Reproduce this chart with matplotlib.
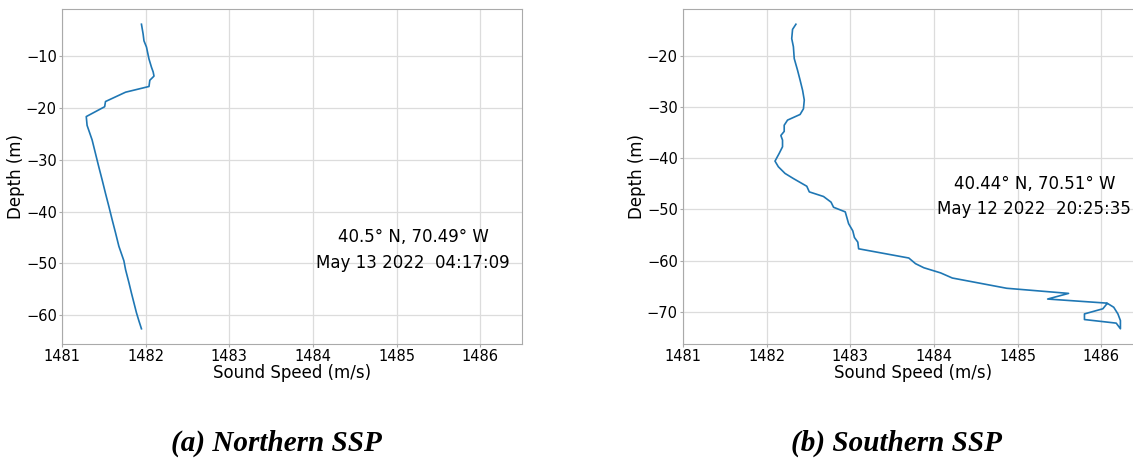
import numpy as np
import matplotlib.pyplot as plt

# Northern SSP (speed m/s, depth m)
north_speed = [1481.95, 1481.97, 1481.98, 1482.01, 1482.04, 1482.07, 1482.09, 1482.10,
               1482.05, 1482.04, 1481.76, 1481.52, 1481.51, 1481.29, 1481.30, 1481.33,
               1481.36, 1481.40, 1481.44, 1481.48, 1481.52, 1481.56, 1481.60, 1481.64,
               1481.68, 1481.74, 1481.76, 1481.80, 1481.83, 1481.86, 1481.89, 1481.92,
               1481.95]
north_depth = [-3.9, -5.8, -7.1, -8.3, -10.6, -12.2, -13.1, -13.9,
               -14.7, -15.9, -17.0, -18.8, -19.8, -21.7, -23.4, -24.8,
               -26.2, -28.8, -31.4, -33.9, -36.5, -39.0, -41.6, -44.1,
               -46.7, -49.5, -51.2, -53.7, -55.7, -57.6, -59.5, -61.1,
               -62.6]

# Southern SSP
south_speed = [1482.35, 1482.31, 1482.30, 1482.32, 1482.33, 1482.37, 1482.40, 1482.43,
               1482.45, 1482.44, 1482.40, 1482.25, 1482.21, 1482.21, 1482.17, 1482.19,
               1482.19, 1482.15, 1482.10, 1482.14, 1482.22, 1482.32, 1482.48, 1482.51,
               1482.68, 1482.77, 1482.80, 1482.94, 1482.98, 1483.03, 1483.05, 1483.09,
               1483.10, 1483.70, 1483.78, 1483.88, 1484.08, 1484.22, 1484.87, 1485.61,
               1485.36, 1486.07, 1486.15, 1486.20, 1486.23, 1486.23, 1486.18, 1485.80,
               1485.80, 1486.02, 1486.07]
south_depth = [-13.9, -14.9, -16.7, -18.3, -20.6, -22.9, -24.8, -26.8,
               -28.7, -30.4, -31.5, -32.6, -33.6, -34.8, -35.6, -36.5,
               -37.8, -39.1, -40.6, -41.7, -43.0, -44.0, -45.5, -46.6,
               -47.5, -48.6, -49.6, -50.5, -52.8, -54.2, -55.5, -56.4,
               -57.7, -59.5, -60.6, -61.4, -62.4, -63.4, -65.4, -66.4,
               -67.5, -68.3, -69.1, -70.4, -71.7, -73.3, -72.2, -71.5,
               -70.4, -69.4, -68.4]

xticks = [1481, 1482, 1483, 1484, 1485, 1486]
labels = [["40.5° N, 70.49° W", "May 13 2022  04:17:09"],
          ["40.44° N, 70.51° W", "May 12 2022  20:25:35"]]
captions = ["(a) Northern SSP", "(b) Southern SSP"]

fig = plt.figure(figsize=(11.33, 4.61), dpi=100)
ax1 = fig.add_axes([62/1133, 117/461, 460/1133, 335/461])
ax2 = fig.add_axes([683/1133, 117/461, 460/1133, 335/461])

for ax, sp, dp, lab in [(ax1, north_speed, north_depth, labels[0]),
                        (ax2, south_speed, south_depth, labels[1])]:
    ax.plot(sp, dp, color='#1f77b4', lw=1.2)
    ax.set_xlim(1481, 1486.5)
    ax.set_xticks(xticks)
    ax.grid(True, color='#dcdcdc', lw=0.9)
    ax.set_axisbelow(True)
    for s in ax.spines.values():
        s.set_color('#aaaaaa')
    ax.tick_params(colors='#aaaaaa', labelcolor='black', labelsize=10.5,
                   length=2.5, pad=1.2)
    ax.set_xlabel("Sound Speed (m/s)", fontsize=12, labelpad=0)
    ax.set_ylabel("Depth (m)", fontsize=12, labelpad=0.5)
    ax.text(1485.2, -45, lab[0], ha='center', va='center', fontsize=12)
    ax.text(1485.2, -50, lab[1], ha='center', va='center', fontsize=12)

fig.text(276/1133, 1 - 443/461, captions[0], ha='center', va='center',
         family='Liberation Serif', weight='bold', style='italic', fontsize=21)
fig.text(896/1133, 1 - 443/461, captions[1], ha='center', va='center',
         family='Liberation Serif', weight='bold', style='italic', fontsize=21)

fig.savefig("out.png", dpi=100)
